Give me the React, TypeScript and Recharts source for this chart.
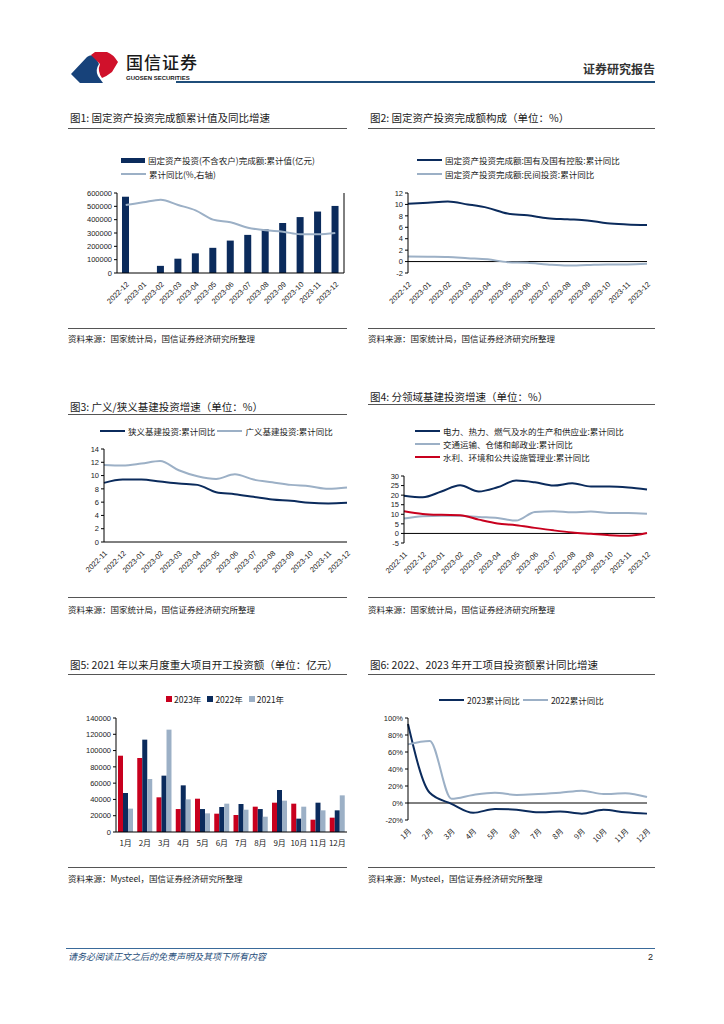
import React from 'react';
import {
  ComposedChart,
  LineChart,
  BarChart,
  Bar,
  Line,
  XAxis,
  YAxis,
  ReferenceLine,
} from 'recharts';

const NAVY = '#0b2b5c';
const GREY_BLUE = '#9cb0c6';
const RED = '#c8001e';
const NUM_FONT = "'Liberation Sans', 'Noto Sans CJK SC', sans-serif";
const CJK_FONT = "'Noto Sans CJK SC', 'Liberation Sans', sans-serif";

// 图1 固定资产投资完成额累计值及同比
const months13 = [
  '2022-12', '2023-01', '2023-02', '2023-03', '2023-04', '2023-05', '2023-06',
  '2023-07', '2023-08', '2023-09', '2023-10', '2023-11', '2023-12',
];
const faiTotal = [572138, null, 53577, 107282, 147482, 188815, 243113, 285898, 327042, 375035, 419409, 460814, 503036];
const faiYoy = [5.1, 5.3, 5.5, 5.1, 4.7, 4.0, 3.8, 3.4, 3.2, 3.1, 2.9, 2.9, 3.0];

// 图2 国有 / 民间
const stateYoy = [10.1, 10.3, 10.5, 10.0, 9.4, 8.4, 8.1, 7.6, 7.4, 7.2, 6.7, 6.5, 6.4];
const privateYoy = [0.9, 0.85, 0.8, 0.6, 0.4, -0.1, -0.2, -0.5, -0.7, -0.6, -0.5, -0.5, -0.4];

// 图3 / 图4
const months14 = ['2022-11', ...months13];
const narrowInfra = [8.9, 9.4, 9.4, 9.1, 8.8, 8.6, 7.5, 7.2, 6.8, 6.4, 6.2, 5.9, 5.8, 5.9];
const broadInfra = [11.6, 11.5, 11.8, 12.2, 10.8, 9.9, 9.5, 10.2, 9.4, 9.0, 8.6, 8.4, 8.0, 8.2];
const powerYoy = [19.7, 18.9, 21.9, 25.2, 21.9, 24.1, 27.6, 26.7, 25.0, 26.2, 24.5, 24.5, 24.0, 23.0];
const transportYoy = [7.8, 9.0, 9.3, 9.3, 8.6, 8.1, 6.7, 11.2, 11.6, 11.0, 11.4, 10.7, 10.7, 10.3];
const waterYoy = [11.6, 10.2, 9.7, 9.5, 7.2, 5.2, 4.3, 2.9, 1.6, 0.5, -0.2, -0.9, -1.2, 0.2];

// 图5 / 图6
const monthsCn = ['1月', '2月', '3月', '4月', '5月', '6月', '7月', '8月', '9月', '10月', '11月', '12月'];
const start2023 = [93700, 90900, 42600, 28200, 40900, 22500, 20900, 31100, 36000, 34800, 15100, 17600];
const start2022 = [47900, 113400, 69200, 57300, 28200, 30700, 34400, 28200, 51600, 16400, 36000, 26600];
const start2021 = [28700, 65100, 125700, 40100, 22900, 34800, 27400, 18800, 38500, 31100, 26600, 45000];
const cum2023 = [93, 12, -1, -11.5, -7, -8, -11, -10, -12.5, -8, -11, -12.5];
const cum2022 = [69, 73, 5, 9.5, 12, 9.5, 10.5, 12, 14.5, 10.5, 11.5, 7];

const fig1 = months13.map((m, i) => ({ m, total: faiTotal[i], yoy: faiYoy[i] }));
const fig2 = months13.map((m, i) => ({ m, state: stateYoy[i], priv: privateYoy[i] }));
const fig3 = months14.map((m, i) => ({ m, narrow: narrowInfra[i], broad: broadInfra[i] }));
const fig4 = months14.map((m, i) => ({ m, power: powerYoy[i], transport: transportYoy[i], water: waterYoy[i] }));
const fig5 = monthsCn.map((m, i) => ({ m, y2023: start2023[i], y2022: start2022[i], y2021: start2021[i] }));
const fig6 = monthsCn.map((m, i) => ({ m, c2023: cum2023[i], c2022: cum2022[i] }));

const tickStyle = { fill: '#222', fontSize: 7.5, fontFamily: NUM_FONT };
const rotTick = { fill: '#222', fontSize: 7.5, fontFamily: NUM_FONT };

type LegendItem = { label: string; color: string; kind: 'bar' | 'line' | 'square' };

function Legend({ items, left, top, rowGap, inline, gap }: {
  items: LegendItem[]; left: number; top: number; rowGap?: number; inline?: boolean; gap?: number;
}) {
  return (
    <div style={{
      position: 'absolute', left, top, display: 'flex',
      flexDirection: inline ? 'row' : 'column', rowGap: rowGap ?? 0, columnGap: gap ?? 4,
      fontFamily: CJK_FONT, fontSize: 8.5, color: '#222',
    }}>
      {items.map((it) => (
        <div key={it.label} style={{ display: 'flex', alignItems: 'center', height: 10, whiteSpace: 'nowrap' }}>
          {it.kind === 'bar' && <span style={{ width: 24, height: 5, background: it.color, marginRight: 3 }} />}
          {it.kind === 'line' && <span style={{ width: 25, height: 2, background: it.color, marginRight: 3 }} />}
          {it.kind === 'square' && <span style={{ width: 6, height: 6, background: it.color, marginRight: 2 }} />}
          <span>{it.label}</span>
        </div>
      ))}
    </div>
  );
}

function Frame({ x, w, titleY, lineY, srcLineY, srcY, title, source }: {
  x: number; w: number; titleY: number; lineY: number; srcLineY: number; srcY: number; title: string; source: string;
}) {
  return (
    <>
      <div style={{
        position: 'absolute', left: x + 2, top: titleY - 8, height: 16, lineHeight: '16px',
        fontFamily: CJK_FONT, fontSize: 10.5, color: '#1a1a1a', whiteSpace: 'nowrap',
      }}>{title}</div>
      <div style={{ position: 'absolute', left: x, top: lineY, width: w, height: 1, background: '#555' }} />
      <div style={{ position: 'absolute', left: x, top: srcLineY, width: w, height: 1, background: '#555' }} />
      <div style={{
        position: 'absolute', left: x, top: srcY - 7, height: 14, lineHeight: '14px',
        fontFamily: CJK_FONT, fontSize: 8.5, color: '#1a1a1a', whiteSpace: 'nowrap',
      }}>{source}</div>
    </>
  );
}

function Logo() {
  return (
    <svg style={{ position: 'absolute', left: 68, top: 50 }} width={54} height={34}>
      <path d="M3 24 L19 7 Q24 3 28 8 L31 14 Q27 20 30 26 L35 33 L12 33 Z" fill="#17427a" />
      <path d="M23 5 L27 2 L39 2 Q45 4 50 12 L44 22 Q39 26 34 28 Q29 21 32 14 Z" fill="#d0112b" />
    </svg>
  );
}

export default function App() {
  return (
    <div style={{ position: 'absolute', left: 0, top: 0, width: 724, height: 1024, background: '#fff', overflow: 'hidden' }}>
      {/* header */}
      <Logo />
      <div style={{ position: 'absolute', left: 126, top: 52, fontFamily: CJK_FONT, fontSize: 17, fontWeight: 500, color: '#1a1a1a', letterSpacing: 1, lineHeight: '20px' }}>国信证券</div>
      <div style={{ position: 'absolute', left: 126, top: 74, fontFamily: NUM_FONT, fontSize: 6, fontWeight: 700, color: '#222', lineHeight: '8px' }}>GUOSEN SECURITIES</div>
      <div style={{ position: 'absolute', left: 176, top: 81, width: 479, height: 2, background: '#1f4e7a' }} />
      <div style={{ position: 'absolute', right: 724 - 655, top: 61, fontFamily: CJK_FONT, fontSize: 12, fontWeight: 700, color: '#333', lineHeight: '16px' }}>证券研究报告</div>

      {/* 图1 */}
      <Frame x={68} w={279} titleY={118} lineY={128} srcLineY={328} srcY={338}
        title="图1: 固定资产投资完成额累计值及同比增速" source="资料来源：国家统计局，国信证券经济研究所整理" />
      <Legend left={121} top={155} rowGap={4} items={[
        { label: '固定资产投资(不含农户)完成额:累计值(亿元)', color: NAVY, kind: 'bar' },
        { label: '累计同比(%,右轴)', color: GREY_BLUE, kind: 'line' },
      ]} />
      <div style={{ position: 'absolute', left: 60, top: 140 }}>
        <ComposedChart width={300} height={180} data={fig1} margin={{ top: 53, right: 0, left: 0, bottom: 0 }}>
          <XAxis dataKey="m" interval={0} height={47} angle={-45} textAnchor="end" tick={rotTick}
            tickLine={false} stroke="#000" />
          <YAxis yAxisId="left" width={57} domain={[0, 600000]} ticks={[0, 100000, 200000, 300000, 400000, 500000, 600000]}
            interval={0} tick={tickStyle} tickSize={3} stroke="#000" />
          <YAxis yAxisId="right" orientation="right" width={16} domain={[0, 6]} ticks={[0, 1, 2, 3, 4, 5, 6]}
            interval={0} tick={false} tickSize={3} stroke="#000" />
          <Bar yAxisId="left" dataKey="total" fill={NAVY} barSize={7} isAnimationActive={false} />
          <Line yAxisId="right" type="monotone" dataKey="yoy" stroke={GREY_BLUE} strokeWidth={2} dot={false} isAnimationActive={false} />
        </ComposedChart>
      </div>

      {/* 图2 */}
      <Frame x={368} w={287} titleY={118} lineY={128} srcLineY={328} srcY={338}
        title="图2: 固定资产投资完成额构成（单位：%）" source="资料来源：国家统计局，国信证券经济研究所整理" />
      <Legend left={417} top={155} rowGap={4} items={[
        { label: '固定资产投资完成额:国有及国有控股:累计同比', color: NAVY, kind: 'line' },
        { label: '固定资产投资完成额:民间投资:累计同比', color: GREY_BLUE, kind: 'line' },
      ]} />
      <div style={{ position: 'absolute', left: 360, top: 140 }}>
        <LineChart width={300} height={180} data={fig2} margin={{ top: 53, right: 13, left: 0, bottom: 0 }}>
          <XAxis dataKey="m" interval={0} height={47} angle={-45} textAnchor="end" tick={rotTick}
            tickLine={false} axisLine={false} />
          <YAxis width={48} domain={[-2, 12]} ticks={[-2, 0, 2, 4, 6, 8, 10, 12]} interval={0}
            tick={tickStyle} tickSize={3} stroke="#000" />
          <ReferenceLine y={0} stroke="#000" strokeWidth={1} />
          <Line type="monotone" dataKey="state" stroke={NAVY} strokeWidth={2} dot={false} isAnimationActive={false} />
          <Line type="monotone" dataKey="priv" stroke={GREY_BLUE} strokeWidth={2} dot={false} isAnimationActive={false} />
        </LineChart>
      </div>

      {/* 图3 */}
      <Frame x={68} w={279} titleY={407} lineY={414} srcLineY={597} srcY={609}
        title="图3: 广义/狭义基建投资增速（单位：%）" source="资料来源：国家统计局，国信证券经济研究所整理" />
      <Legend left={100} top={426} inline gap={2} items={[
        { label: '狭义基建投资:累计同比', color: NAVY, kind: 'line' },
        { label: '广义基建投资:累计同比', color: GREY_BLUE, kind: 'line' },
      ]} />
      <div style={{ position: 'absolute', left: 60, top: 400 }}>
        <LineChart width={300} height={190} data={fig3} margin={{ top: 49, right: 13, left: 0, bottom: 0 }}>
          <XAxis dataKey="m" interval={0} height={48} angle={-45} textAnchor="end" tick={rotTick}
            tickLine={false} stroke="#000" />
          <YAxis width={44} domain={[0, 14]} ticks={[0, 2, 4, 6, 8, 10, 12, 14]} interval={0}
            tick={tickStyle} tickSize={3} stroke="#000" />
          <Line type="monotone" dataKey="narrow" stroke={NAVY} strokeWidth={2} dot={false} isAnimationActive={false} />
          <Line type="monotone" dataKey="broad" stroke={GREY_BLUE} strokeWidth={2} dot={false} isAnimationActive={false} />
        </LineChart>
      </div>

      {/* 图4 */}
      <Frame x={368} w={287} titleY={397} lineY={404} srcLineY={597} srcY={609}
        title="图4: 分领域基建投资增速（单位：%）" source="资料来源：国家统计局，国信证券经济研究所整理" />
      <Legend left={415} top={426} rowGap={3} items={[
        { label: '电力、热力、燃气及水的生产和供应业:累计同比', color: NAVY, kind: 'line' },
        { label: '交通运输、仓储和邮政业:累计同比', color: GREY_BLUE, kind: 'line' },
        { label: '水利、环境和公共设施管理业:累计同比', color: RED, kind: 'line' },
      ]} />
      <div style={{ position: 'absolute', left: 360, top: 400 }}>
        <LineChart width={300} height={190} data={fig4} margin={{ top: 76, right: 13, left: 0, bottom: 0 }}>
          <XAxis dataKey="m" interval={0} height={47} angle={-45} textAnchor="end" tick={rotTick}
            tickLine={false} axisLine={false} />
          <YAxis width={44} domain={[-5, 30]} ticks={[-5, 0, 5, 10, 15, 20, 25, 30]} interval={0}
            tick={tickStyle} tickSize={3} stroke="#000" />
          <ReferenceLine y={0} stroke="#000" strokeWidth={1} />
          <Line type="monotone" dataKey="power" stroke={NAVY} strokeWidth={2} dot={false} isAnimationActive={false} />
          <Line type="monotone" dataKey="transport" stroke={GREY_BLUE} strokeWidth={2} dot={false} isAnimationActive={false} />
          <Line type="monotone" dataKey="water" stroke={RED} strokeWidth={2} dot={false} isAnimationActive={false} />
        </LineChart>
      </div>

      {/* 图5 */}
      <Frame x={68} w={279} titleY={665} lineY={674} srcLineY={867} srcY={878}
        title="图5: 2021 年以来月度重大项目开工投资额（单位：亿元）" source="资料来源：Mysteel，国信证券经济研究所整理" />
      <Legend left={166} top={694} inline gap={6} items={[
        { label: '2023年', color: RED, kind: 'square' },
        { label: '2022年', color: NAVY, kind: 'square' },
        { label: '2021年', color: GREY_BLUE, kind: 'square' },
      ]} />
      <div style={{ position: 'absolute', left: 60, top: 680 }}>
        <BarChart width={300} height={180} data={fig5} margin={{ top: 38, right: 13, left: 0, bottom: 0 }} barGap={0}>
          <XAxis dataKey="m" interval={0} height={28} tick={{ fill: '#222', fontSize: 8, fontFamily: CJK_FONT }}
            tickLine={false} stroke="#000" />
          <YAxis width={56} domain={[0, 140000]} ticks={[0, 20000, 40000, 60000, 80000, 100000, 120000, 140000]}
            interval={0} tick={tickStyle} tickSize={3} stroke="#000" />
          <Bar dataKey="y2023" fill={RED} barSize={5} isAnimationActive={false} />
          <Bar dataKey="y2022" fill={NAVY} barSize={5} isAnimationActive={false} />
          <Bar dataKey="y2021" fill={GREY_BLUE} barSize={5} isAnimationActive={false} />
        </BarChart>
      </div>

      {/* 图6 */}
      <Frame x={368} w={287} titleY={665} lineY={674} srcLineY={867} srcY={878}
        title="图6: 2022、2023 年开工项目投资额累计同比增速" source="资料来源：Mysteel，国信证券经济研究所整理" />
      <Legend left={439} top={695} inline gap={3} items={[
        { label: '2023累计同比', color: NAVY, kind: 'line' },
        { label: '2022累计同比', color: GREY_BLUE, kind: 'line' },
      ]} />
      <div style={{ position: 'absolute', left: 360, top: 680 }}>
        <LineChart width={300} height={180} data={fig6} margin={{ top: 38, right: 13, left: 0, bottom: 0 }}>
          <XAxis dataKey="m" interval={0} height={40} angle={-45} textAnchor="end"
            tick={{ fill: '#222', fontSize: 7.5, fontFamily: CJK_FONT }} tickLine={false} axisLine={false} />
          <YAxis width={48} domain={[-20, 100]} ticks={[-20, 0, 20, 40, 60, 80, 100]} interval={0}
            tickFormatter={(v) => `${v}%`} tick={tickStyle} tickSize={3} stroke="#000" />
          <ReferenceLine y={0} stroke="#000" strokeWidth={1} />
          <Line type="monotone" dataKey="c2023" stroke={NAVY} strokeWidth={2} dot={false} isAnimationActive={false} />
          <Line type="monotone" dataKey="c2022" stroke={GREY_BLUE} strokeWidth={2} dot={false} isAnimationActive={false} />
        </LineChart>
      </div>

      {/* footer */}
      <div style={{ position: 'absolute', left: 66, top: 948, width: 589, height: 1, background: '#3a6a9a' }} />
      <div style={{ position: 'absolute', left: 68, top: 951, fontFamily: CJK_FONT, fontSize: 9, fontStyle: 'italic', color: '#1f4e7a', lineHeight: '12px' }}>
        请务必阅读正文之后的免责声明及其项下所有内容
      </div>
      <div style={{ position: 'absolute', left: 648, top: 951, fontFamily: NUM_FONT, fontSize: 9, color: '#222', lineHeight: '12px' }}>2</div>
    </div>
  );
}
